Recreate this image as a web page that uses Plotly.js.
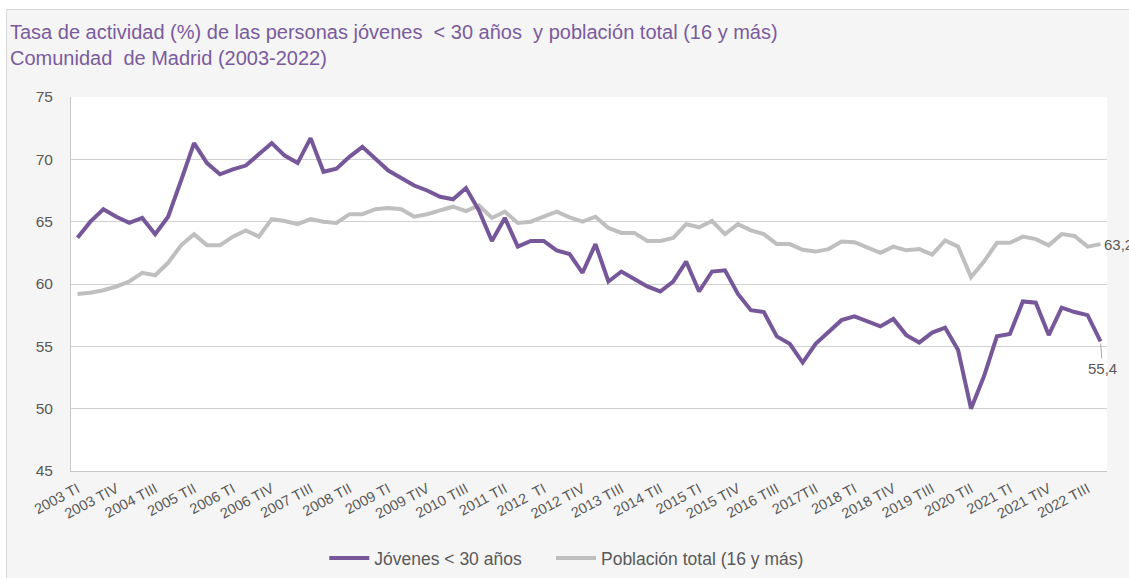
<!DOCTYPE html>
<html>
<head>
<meta charset="utf-8">
<script src="https://cdn.plot.ly/plotly-3.0.1.min.js"></script>
<style>
  html, body { margin: 0; padding: 0; background: #ffffff; overflow: hidden; }
  #frame { position: absolute; left: 6px; top: 9px; width: 1140px; height: 600px;
           background: #f5f5f5; border: 1px solid #d6d6d6; box-sizing: border-box; }
  #chart { position: absolute; left: 0; top: 0; width: 1129px; height: 578px; }
</style>
</head>
<body>
<div id="frame"></div>
<div id="chart"></div>
<script>
// Categories: quarters 2003 TI .. 2022 TIV
const years = [2003,2004,2005,2006,2007,2008,2009,2010,2011,2012,2013,2014,2015,2016,2017,2018,2019,2020,2021,2022];
const quarterNames = ["TI","TII","TIII","TIV"];
const categories = [];
years.forEach(y => quarterNames.forEach(q => categories.push(y + " " + q)));

// Tasa de actividad (%) - Jóvenes < 30 años
const jovenes = [
  63.7, 65.0, 66.0, 65.4, 64.9, 65.3, 64.0, 65.4,
  68.3, 71.3, 69.7, 68.8, 69.2, 69.5, 70.4, 71.3,
  70.3, 69.7, 71.7, 69.0, 69.25, 70.2, 71.0, 70.0,
  69.1, 68.5, 67.9, 67.5, 67.0, 66.8, 67.7, 65.9,
  63.45, 65.3, 63.0, 63.45, 63.45, 62.7, 62.4, 60.9,
  63.2, 60.2, 61.0, 60.4, 59.8, 59.4, 60.2, 61.8,
  59.4, 61.0, 61.1, 59.2, 57.9, 57.75, 55.8, 55.2,
  53.7, 55.2, 56.2, 57.1, 57.4, 57.0, 56.6, 57.2,
  55.9, 55.3, 56.1, 56.5, 54.7, 50.0, 52.6, 55.8,
  56.0, 58.6, 58.5, 55.9, 58.1, 57.75, 57.5, 55.4
];

// Tasa de actividad (%) - Población total (16 y más)
const poblacion = [
  59.2, 59.3, 59.5, 59.8, 60.2, 60.9, 60.7, 61.7,
  63.1, 64.0, 63.1, 63.1, 63.8, 64.3, 63.8, 65.2,
  65.05, 64.8, 65.2, 65.0, 64.9, 65.6, 65.6, 66.0,
  66.1, 66.0, 65.4, 65.6, 65.9, 66.2, 65.85, 66.3,
  65.3, 65.8, 64.9, 65.0, 65.4, 65.8, 65.35, 65.0,
  65.4, 64.5, 64.1, 64.1, 63.45, 63.45, 63.7, 64.8,
  64.55, 65.05, 64.0, 64.8, 64.3, 64.0, 63.2, 63.2,
  62.75, 62.6, 62.8, 63.4, 63.35, 62.9, 62.5, 63.0,
  62.7, 62.8, 62.35, 63.5, 63.0, 60.55, 61.8, 63.3,
  63.3, 63.8, 63.6, 63.1, 64.0, 63.85, 63.0, 63.2
];

// Tick labels shown on the x axis (every third quarter)
const tickLabels = [
  "2003 TI","2003 TIV","2004 TIII","2005 TII","2006 TI","2006 TIV","2007 TIII",
  "2008 TII","2009 TI","2009 TIV","2010 TIII","2011 TII","2012  TI","2012 TIV",
  "2013 TIII","2014 TII","2015 TI","2015 TIV","2016 TIII","2017TII","2018 TI",
  "2018 TIV","2019 TIII","2020 TII","2021 TI","2021 TIV","2022 TIII"
];
const tickVals = categories.filter((c, i) => i % 3 === 0);

const seriesNames = ["Jóvenes < 30 años", "Población total (16 y más)"];
const fontFam = "Liberation Sans, Arial, sans-serif";
const textGray = "#595959";
const pad = "\u00a0\u00a0\u00a0\u00a0\u00a0";

const fmt = v => v.toFixed(1).replace(".", ",");
const lastIdx = categories.length - 1;

const traces = [
  { x: categories, y: jovenes, type: "scatter", mode: "lines", name: seriesNames[0] + pad,
    line: { color: "#76579a", width: 4 }, hoverinfo: "x+y" },
  { x: categories, y: poblacion, type: "scatter", mode: "lines", name: seriesNames[1],
    line: { color: "#bfbfbf", width: 4 }, hoverinfo: "x+y" }
];
// Draw purple on top
traces.reverse();

const layout = {
  width: 1129, height: 578,
  paper_bgcolor: "rgba(0,0,0,0)",
  plot_bgcolor: "#ffffff",
  margin: { l: 71, r: 22, t: 97, b: 107 },
  font: { family: fontFam, color: textGray },
  title: {
    text: "Tasa de actividad (%) de las personas jóvenes  &lt; 30 años  y población total (16 y más)<br>Comunidad  de Madrid (2003-2022)",
    font: { family: fontFam, size: 20, color: "#7a5b9e" },
    xref: "container", yref: "container", x: 10/1129, xanchor: "left",
    y: 1 - 39/578, yanchor: "top"
  },
  xaxis: {
    type: "category",
    range: [-0.5, categories.length - 0.5],
    tickmode: "array", tickvals: tickVals, ticktext: tickLabels,
    tickangle: -28, tickfont: { family: fontFam, size: 14.5, color: textGray },
    ticks: "", showgrid: false, zeroline: false,
    showline: true, linecolor: "#c8c8c8", linewidth: 1,
    ticklabelstandoff: 3
  },
  yaxis: {
    range: [45, 75], dtick: 5, tick0: 45,
    tickfont: { family: fontFam, size: 15.5, color: textGray },
    showgrid: true, gridcolor: "#d0d0d0", gridwidth: 1,
    showline: true, linecolor: "#c8c8c8", linewidth: 1,
    zeroline: false, ticks: "", ticklabelstandoff: 14
  },
  showlegend: true,
  legend: {
    orientation: "h", xref: "container", yref: "container",
    x: 0.502, xanchor: "center", y: 1 - 558/578, yanchor: "middle",
    font: { family: fontFam, size: 17.5, color: textGray },
    traceorder: "reversed", itemwidth: 40
  },
  annotations: [
    { x: categories[lastIdx], y: poblacion[lastIdx], xref: "x", yref: "y",
      text: fmt(poblacion[lastIdx]), showarrow: false, xanchor: "left", yanchor: "middle",
      xshift: 1, font: { family: fontFam, size: 15, color: textGray } },
    { x: categories[lastIdx], y: jovenes[lastIdx], xref: "x", yref: "y",
      text: fmt(jovenes[lastIdx]), showarrow: true, arrowhead: 0, arrowwidth: 1,
      arrowcolor: "#a6a6a6", ax: 2, ay: 27, standoff: 2,
      font: { family: fontFam, size: 15, color: textGray } }
  ]
};

Plotly.newPlot("chart", traces, layout, { displayModeBar: false, staticPlot: true });
</script>
</body>
</html>
